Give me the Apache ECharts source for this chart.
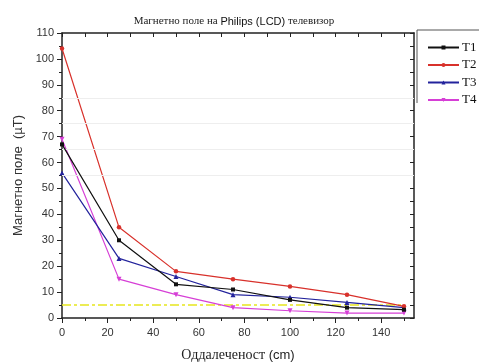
<!DOCTYPE html>
<html><head><meta charset="utf-8">
<script src="https://cdn.jsdelivr.net/npm/echarts@6/dist/echarts.min.js"></script>
<style>html,body{margin:0;padding:0;background:#fff}#c{width:479px;height:362px}</style>
</head><body><div id="c"></div>
<script>
const distances = [0, 25, 50, 75, 100, 125, 150];
const seriesNames = ['T1', 'T2', 'T3', 'T4'];
const t1 = [67, 30, 13, 11, 7, 4, 3.2];
const t2 = [104, 35, 18, 15, 12.2, 9, 4.5];
const t3 = [56, 23, 16, 9, 8, 6, 4];
const t4 = [69, 15, 9, 4, 2.8, 1.9, 1.9];
const limitLine = [[0, 5], [150, 5]];
const faintLevels = [55, 65, 75, 85];
const xMajorTicks = [0, 20, 40, 60, 80, 100, 120, 140];
const xMinorTicks = [10, 30, 50, 70, 90, 110, 130, 150];
const xTopTicks = [0, 10, 20, 30, 40, 50, 60, 70, 80, 90, 100, 110, 120, 130, 140, 150];

const serif = 'Liberation Serif';
const sans = 'Liberation Sans';
const colors = ['#111111', '#d8312b', '#23239c', '#d63fd6'];
const symbols = ['rect', 'circle', 'triangle', 'triangle'];
const sizes = [4, 4.5, 5, 5];
const rots = [0, 0, 0, 180];
const allData = [t1, t2, t3, t4];

const chart = echarts.init(document.getElementById('c'), null, {renderer: 'canvas'});
const grid = {left: 62, right: 65, top: 33, bottom: 44, containLabel: false, outerBoundsMode: 'none'};
const xMin = 0, xMax = 154.4;

const series = seriesNames.map((n, i) => ({
  name: n, type: 'line', xAxisIndex: 0, yAxisIndex: 0,
  data: distances.map((d, k) => [d, allData[i][k]]),
  symbol: symbols[i], symbolSize: sizes[i], symbolRotate: rots[i],
  lineStyle: {color: colors[i], width: 1.2},
  itemStyle: {color: colors[i]},
  z: 5 - i
}));
series.push({
  name: 'limit', type: 'line', xAxisIndex: 0, yAxisIndex: 0,
  data: limitLine, symbol: 'none', silent: true,
  lineStyle: {color: '#e6e61e', width: 1.5, type: [9, 3, 3, 3]}, z: 1,
  markLine: {
    silent: true, symbol: 'none', label: {show: false},
    lineStyle: {color: '#eeeeee', width: 1, type: 'solid'},
    data: faintLevels.map(v => ({yAxis: v}))
  }
});

chart.setOption({
  animation: false,
  backgroundColor: '#fff',
  title: {
    text: '{a|Магнетно поле на }{b|Philips (LCD)}{a| телевизор}',
    left: 229, top: 11, textAlign: 'center',
    textStyle: {fontWeight: 'normal', rich: {
      a: {fontFamily: serif, fontSize: 11, color: '#222', fontWeight: 'normal'},
      b: {fontFamily: sans, fontSize: 11, color: '#111', fontWeight: 'normal'}
    }}
  },
  legend: {
    data: seriesNames, orient: 'vertical', left: 422, top: 35,
    itemWidth: 31, itemHeight: 5, itemGap: 2.5,
    textStyle: {fontFamily: serif, fontSize: 13, lineHeight: 15, color: '#111', padding: [0, 0, 0, -2]}
  },
  grid: grid,
  xAxis: [
    {type: 'value', position: 'bottom', min: xMin, max: xMax,
      name: '{a|Оддалеченост }{b|(cm)}', nameLocation: 'middle', nameGap: 30,
      nameTextStyle: {rich: {
        a: {fontFamily: serif, fontSize: 14, color: '#222'},
        b: {fontFamily: sans, fontSize: 13, color: '#222'}
      }},
      axisLine: {show: true, onZero: false, lineStyle: {color: '#222', width: 1.5}},
      axisTick: {show: true, inside: false, length: 5, customValues: xMajorTicks, lineStyle: {color: '#222'}},
      axisLabel: {show: true, customValues: xMajorTicks, margin: 9, fontFamily: sans, fontSize: 11, color: '#333'},
      splitLine: {show: false}},
    {type: 'value', position: 'bottom', min: xMin, max: xMax,
      axisLine: {show: false},
      axisTick: {show: true, inside: false, length: 3, customValues: xMinorTicks, lineStyle: {color: '#222'}},
      axisLabel: {show: false}, splitLine: {show: false}},
    {type: 'value', position: 'top', min: xMin, max: xMax,
      axisLine: {show: true, onZero: false, lineStyle: {color: '#222', width: 1.5}},
      axisTick: {show: true, inside: true, length: 4, customValues: xTopTicks, lineStyle: {color: '#222'}},
      axisLabel: {show: false}, splitLine: {show: false}}
  ],
  yAxis: [
    {type: 'value', position: 'left', min: 0, max: 110, interval: 10,
      name: '{b|Магнетно поле  (µT)}', nameLocation: 'middle', nameGap: 36,
      nameTextStyle: {rich: {b: {fontFamily: sans, fontSize: 13, color: '#333'}}},
      axisLine: {show: true, onZero: false, lineStyle: {color: '#222', width: 1.5}},
      axisTick: {show: true, inside: false, length: 5, lineStyle: {color: '#222'}},
      minorTick: {show: true, splitNumber: 2, length: 3, lineStyle: {color: '#222'}},
      axisLabel: {margin: 8, fontFamily: sans, fontSize: 11, color: '#333'},
      splitLine: {show: false}},
    {type: 'value', position: 'right', min: 0, max: 110, interval: 5,
      axisLine: {show: true, onZero: false, lineStyle: {color: '#222', width: 1.5}},
      axisTick: {show: true, inside: true, length: 4, lineStyle: {color: '#222'}},
      axisLabel: {show: false}, splitLine: {show: false}}
  ],
  graphic: [
    {type: 'polyline', shape: {points: [[479, 30], [417, 30], [417, 103]]},
      style: {stroke: '#555', lineWidth: 1, fill: null}, silent: true}
  ],
  series: series
});
</script></body></html>
